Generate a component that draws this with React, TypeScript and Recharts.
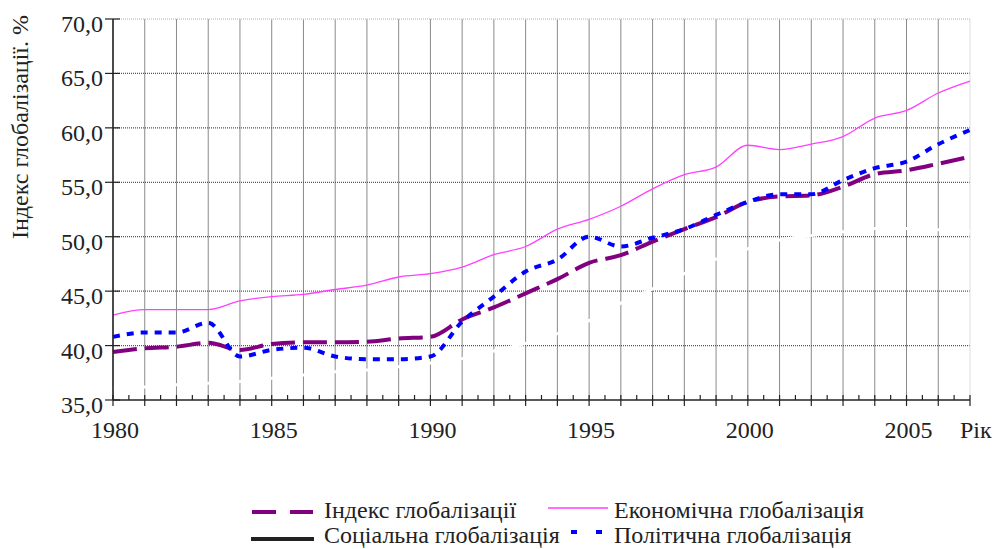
import {
  LineChart,
  Line,
  XAxis,
  YAxis,
  CartesianGrid,
  ReferenceLine,
  Label,
} from "recharts";

const years = [
  1980, 1981, 1982, 1983, 1984, 1985, 1986, 1987, 1988, 1989, 1990, 1991, 1992, 1993,
  1994, 1995, 1996, 1997, 1998, 1999, 2000, 2001, 2002, 2003, 2004, 2005, 2006, 2007,
];

const indexValues = [
  39.4, 39.75, 39.9, 40.25, 39.6, 40.15, 40.3, 40.3, 40.35, 40.65, 40.8, 42.4, 43.5, 44.8,
  46.1, 47.6, 48.3, 49.55, 50.7, 51.8, 53.2, 53.7, 53.8, 54.6, 55.75, 56.1, 56.7, 57.35,
];

const economicValues = [
  42.8, 43.3, 43.3, 43.3, 44.1, 44.5, 44.7, 45.15, 45.55, 46.3, 46.6, 47.2, 48.35, 49.1,
  50.7, 51.6, 52.8, 54.4, 55.7, 56.4, 58.4, 58.0, 58.5, 59.2, 60.9, 61.6, 63.2, 64.3,
];

const socialValues = [
  36.05, 36.2, 36.4, 36.55, 36.7, 37.0, 37.3, 37.6, 37.75, 38.05, 38.4, 38.8, 39.5, 40.2,
  41.1, 42.3, 43.9, 45.2, 46.6, 47.95, 48.9, 49.7, 50.1, 50.45, 50.75, 50.75, 50.65, 50.55,
];

const politicalValues = [
  40.8, 41.2, 41.2, 42.1, 39.0, 39.6, 39.8, 39.0, 38.75, 38.75, 39.0, 42.2, 44.5, 46.8,
  47.9, 50.0, 49.1, 49.9, 50.7, 52.0, 53.2, 53.9, 53.9, 55.2, 56.3, 56.9, 58.5, 59.8,
];

const yTicks = [35, 40, 45, 50, 55, 60, 65, 70];
const yGridValues = [40, 45, 50, 55, 60, 65];
const xLabelYears = [1980, 1985, 1990, 1995, 2000, 2005];
const axisTitle = "Індекс глобалізації. %";
const yearTitle = "Рік";

const data = years.map((year, i) => ({
  year,
  index: indexValues[i],
  economic: economicValues[i],
  social: socialValues[i],
  political: politicalValues[i],
}));

// major tick every year, minor tick every half year
const xTicks = years.flatMap((y) => (y < 2007 ? [y, y + 0.5] : [y]));

const FONT = "Liberation Serif";
const TEXT = "#222";
const textStyle = { fontFamily: FONT, fontSize: 24 };

function XTick({ x, y, payload }: any) {
  const v = payload.value as number;
  const major = Number.isInteger(v);
  return (
    <g>
      <line x1={x} x2={x} y1={y - 5} y2={major ? y + 6 : y} stroke="#222" strokeWidth={1.2} />
      {xLabelYears.includes(v) && (
        <text x={x + 2} y={y + 38} textAnchor="middle" fontFamily={FONT} style={textStyle} fill={TEXT}>
          {v}
        </text>
      )}
      {v === 2007 && (
        <text x={x - 10} y={y + 38} textAnchor="start" fontFamily={FONT} style={textStyle} fill={TEXT}>
          {yearTitle}
        </text>
      )}
    </g>
  );
}

function YTick({ x, y, payload }: any) {
  const v = payload.value as number;
  return (
    <g>
      <line x1={x - 8} x2={x + 7} y1={y} y2={y} stroke="#222" strokeWidth={1.2} />
      <text x={x - 10} y={y + 13} textAnchor="end" fontFamily={FONT} style={textStyle} fill={TEXT}>
        {v.toFixed(1).replace(".", ",")}
      </text>
    </g>
  );
}

const legendItems = [
  { label: "Індекс глобалізації", color: "#800080", w: 4, dash: "24 14", x1: 252, x2: 313, ly: 512, tx: 324, ty: 518 },
  { label: "Економічна глобалізація", color: "#ff40ff", w: 1.5, dash: undefined, x1: 548, x2: 608, ly: 508, tx: 614, ty: 518 },
  { label: "Соціальна глобалізація", color: "#222", w: 4, dash: undefined, x1: 251, x2: 314, ly: 539, tx: 324, ty: 543 },
  { label: "Політична глобалізація", color: "#0000ff", w: 4, dash: "6 19", x1: 571, x2: 603, ly: 532, tx: 614, ty: 543 },
];

export default function App() {
  return (
    <div
      style={{
        position: "absolute",
        left: 0,
        top: 0,
        width: 996,
        height: 549,
        background: "#fff",
        fontFamily: FONT,
      }}
    >
      <LineChart
        width={996}
        height={549}
        data={data}
        margin={{ top: 19, right: 26, bottom: 0, left: 0 }}
      >
        <CartesianGrid
          horizontal={false}
          verticalValues={years.filter((y) => y < 2007)}
          stroke="#8a8a8a"
          strokeWidth={1}
        />
        <CartesianGrid
          vertical={false}
          horizontalValues={yGridValues}
          stroke="#555"
          strokeDasharray="1 1"
          strokeWidth={1.2}
        />
        <ReferenceLine x={2007} stroke="#dddddd" strokeWidth={1} />
        <ReferenceLine y={70} stroke="#cccccc" strokeDasharray="1 1" strokeWidth={1.5} />
        <XAxis
          dataKey="year"
          type="number"
          domain={[1980, 2007]}
          ticks={xTicks}
          interval={0}
          height={149}
          tickSize={0}
          tickMargin={0}
          tickLine={false}
          axisLine={{ stroke: "#222", strokeWidth: 1.5 }}
          tick={(p: any) => <XTick {...p} />}
        />
        <YAxis
          type="number"
          domain={[35, 70]}
          ticks={yTicks}
          interval={0}
          width={113}
          tickSize={0}
          tickMargin={0}
          tickLine={false}
          axisLine={{ stroke: "#222", strokeWidth: 1.5 }}
          tick={(p: any) => <YTick {...p} />}
        >
          <Label
            content={() => (
              <text
                transform="translate(28,127) rotate(-90)"
                textAnchor="middle"
                fontFamily={FONT}
                style={textStyle}
                fill={TEXT}
              >
                {axisTitle}
              </text>
            )}
          />
        </YAxis>
        <Line
          type="monotone"
          dataKey="social"
          stroke="#ffffff"
          strokeWidth={3}
          dot={false}
          isAnimationActive={false}
        />
        <Line
          type="monotone"
          dataKey="economic"
          stroke="#ff40ff"
          strokeWidth={1.3}
          dot={false}
          isAnimationActive={false}
        />
        <Line
          type="monotone"
          dataKey="index"
          stroke="#800080"
          strokeWidth={4}
          strokeDasharray="24 8"
          dot={false}
          isAnimationActive={false}
        />
        <Line
          type="monotone"
          dataKey="political"
          stroke="#0000ff"
          strokeWidth={4}
          strokeDasharray="7 7"
          dot={false}
          isAnimationActive={false}
        />
      </LineChart>
      <svg
        width={996}
        height={549}
        style={{ position: "absolute", left: 0, top: 0, pointerEvents: "none" }}
      >
        {legendItems.map((item) => (
          <g key={item.label}>
            <line
              x1={item.x1}
              x2={item.x2}
              y1={item.ly}
              y2={item.ly}
              stroke={item.color}
              strokeWidth={item.w}
              strokeDasharray={item.dash}
            />
            <text x={item.tx} y={item.ty} fontFamily={FONT} style={textStyle} fill={TEXT}>
              {item.label}
            </text>
          </g>
        ))}
      </svg>
    </div>
  );
}
